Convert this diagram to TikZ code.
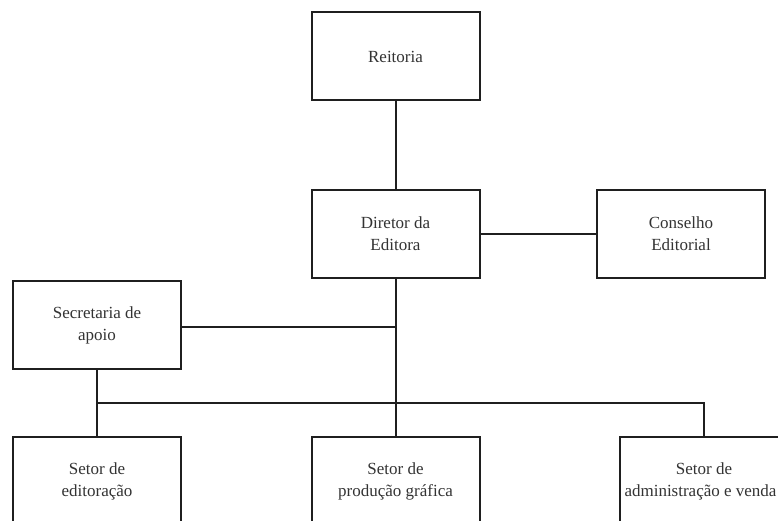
\documentclass[tikz,border=0pt]{standalone}
\usepackage{fontspec}
\setmainfont{Liberation Serif}
\usetikzlibrary{positioning}

\tikzset{
  box/.style={rectangle, draw=black!88, line width=2pt, minimum width=168pt, minimum height=88pt, align=center, text=black!80, font=\fontsize{17}{22}\selectfont},
  link/.style={draw=black!88, line width=2pt}
}

\begin{document}
\begin{tikzpicture}[x=1pt, y=-1pt]
    \useasboundingbox (0,0) rectangle (778,521);
    \clip (0,0) rectangle (778,521);
    \fill[white] (0,0) rectangle (778,521);

    \node[box] (reitoria) at (395.5, 56.5) {Reitoria};
    \node[box] (diretor) at (395.5, 234) {Diretor da\\Editora};
    \node[box] (conselho) at (681, 234) {Conselho\\Editorial};
    \node[box] (secretaria) at (97, 325) {Secretaria de\\apoio};
    \node[box] (editoracao) at (97, 481) {Setor de\\editoração};
    \node[box] (producao) at (395.5, 481) {Setor de\\produção gráfica};
    \node[box] (administracao) at (704, 481) {Setor de\\administração e venda\kern7pt};
    \coordinate (bus) at (400, 403);

    \draw[link] (reitoria) -- (diretor);
    \draw[link] (diretor) -- (conselho);
    \draw[link] (diretor) -- (producao);
    \draw[link] (secretaria.east |- 0,327) -- (diretor.south |- 0,327);
    \draw[link] (secretaria) -- (editoracao);
    \draw[link] (secretaria.south |- bus) -- (administracao.north |- bus) -- (administracao.north);
  \end{tikzpicture}
\end{document}
